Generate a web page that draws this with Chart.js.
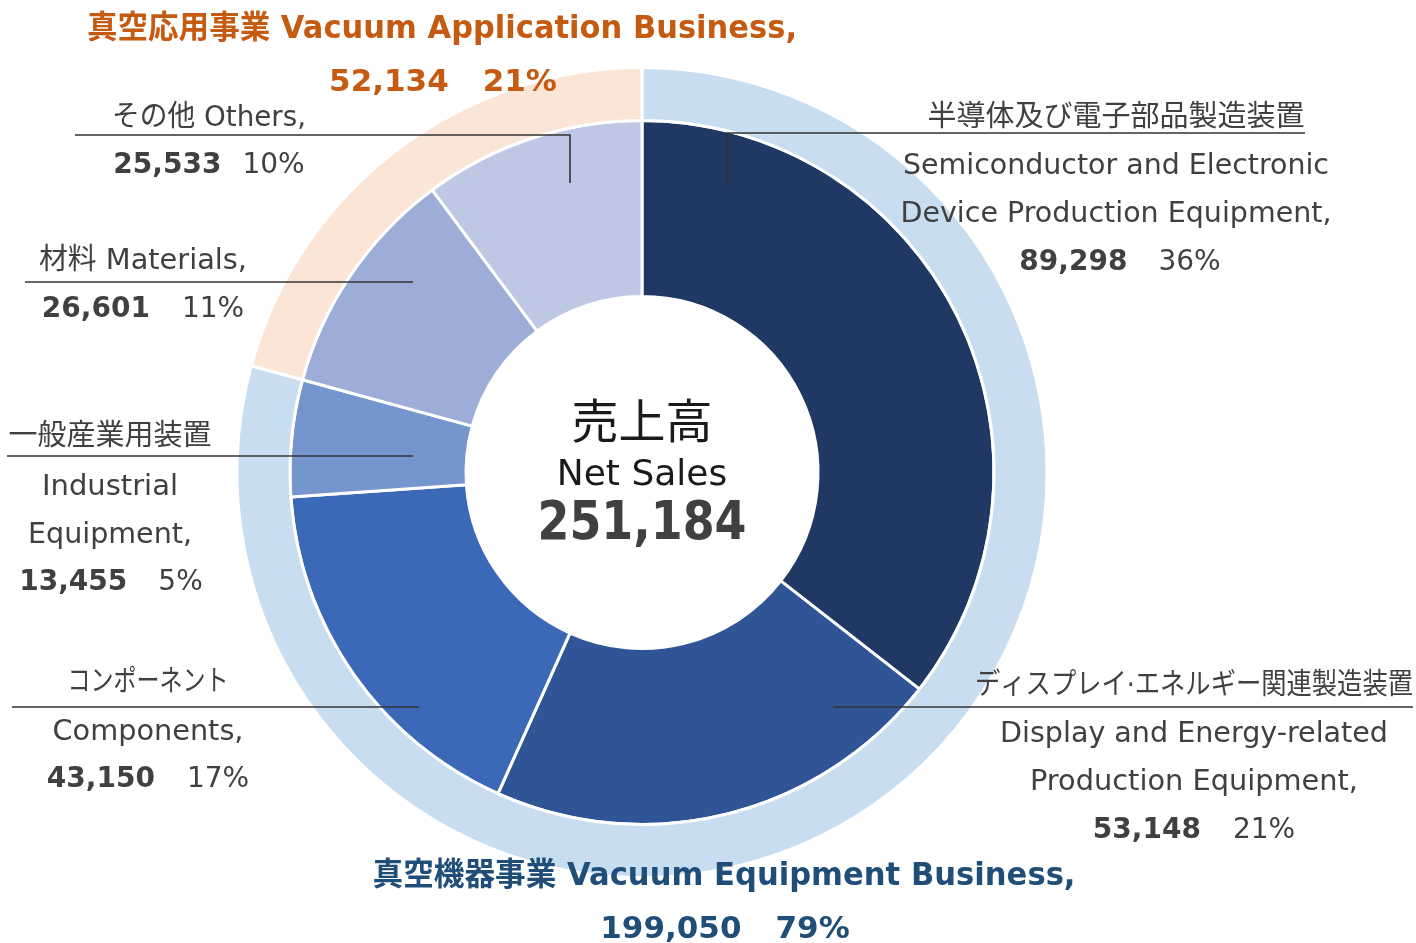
<!DOCTYPE html>
<html>
<head>
<meta charset="utf-8">
<script src="https://cdn.jsdelivr.net/npm/chart.js@4/dist/chart.umd.min.js"></script>
<style>
  html, body { margin: 0; padding: 0; background: #ffffff; }
  #wrap { width: 1416px; height: 943px; position: relative; }
</style>
</head>
<body>
<div id="wrap"><canvas id="c" width="1416" height="943"></canvas></div>
<script>
// ---- data ----
const segmentLabelsJa = ['半導体及び電子部品製造装置', 'ディスプレイ·エネルギー関連製造装置', 'コンポーネント', '一般産業用装置', '材料', 'その他'];
const segmentLabelsEn = ['Semiconductor and Electronic Device Production Equipment', 'Display and Energy-related Production Equipment', 'Components', 'Industrial Equipment', 'Materials', 'Others'];
const segmentValues = [89298, 53148, 43150, 13455, 26601, 25533];
const segmentPercents = [36, 21, 17, 5, 11, 10];
const segmentColors = ['#203864', '#2F5597', '#3C68B8', '#7595CE', '#9EADD7', '#BEC8E4'];

const businessLabelsJa = ['真空機器事業', '真空応用事業'];
const businessLabelsEn = ['Vacuum Equipment Business', 'Vacuum Application Business'];
const businessValues = [199050, 52134];
const businessPercents = [79, 21];
const businessColors = ['#C9DDF1', '#FBE5D6'];

const totalLabelJa = '売上高';
const totalLabelEn = 'Net Sales';
const totalValue = 251184;

const fmt = v => v.toLocaleString('en-US');
const FAM = '"DejaVu Sans", "Noto Sans CJK JP", sans-serif';
const TXT = '#404040';
const DY = 3;

function txt(ctx, s, cx, y, font, color, maxW) {
  ctx.font = font;
  ctx.fillStyle = color;
  ctx.textAlign = 'center';
  ctx.textBaseline = 'middle';
  const w = ctx.measureText(s).width;
  if (maxW && w > maxW) ctx.fillText(s, cx, y + DY, maxW); else ctx.fillText(s, cx, y + DY);
}
function numLine(ctx, boldS, regS, cx, y, gap, size, color, boldOnly) {
  const fb = 'bold ' + size + 'px ' + FAM;
  const fr = (boldOnly ? 'bold ' : '') + size + 'px ' + FAM;
  ctx.font = fb; const wb = ctx.measureText(boldS).width;
  ctx.font = fr; const wr = ctx.measureText(regS).width;
  const start = cx - (wb + gap + wr) / 2;
  ctx.textAlign = 'left'; ctx.textBaseline = 'middle'; ctx.fillStyle = color;
  ctx.font = fb; ctx.fillText(boldS, start, y + DY);
  ctx.font = fr; ctx.fillText(regS, start + wb + gap, y + DY);
}
function line(ctx, pts) {
  ctx.beginPath();
  ctx.moveTo(pts[0][0], pts[0][1]);
  for (let i = 1; i < pts.length; i++) ctx.lineTo(pts[i][0], pts[i][1]);
  ctx.strokeStyle = '#333333';
  ctx.lineWidth = 1.6;
  ctx.stroke();
}

const labelPlugin = {
  id: 'labels',
  afterDraw(chart) {
    const ctx = chart.ctx;
    ctx.save();
    const F = s => s + 'px ' + FAM;
    // leader lines
    line(ctx, [[75, 135], [570, 135], [570, 183]]);
    line(ctx, [[25, 282], [413, 282]]);
    line(ctx, [[7, 456], [413, 456]]);
    line(ctx, [[12, 707], [419, 707]]);
    line(ctx, [[1305, 133], [727, 133], [727, 185]]);
    line(ctx, [[833, 707], [1413, 707]]);

    // Others (5)
    txt(ctx, segmentLabelsJa[5] + ' ' + segmentLabelsEn[5] + ',', 209, 115, F(29), TXT, 194);
    numLine(ctx, fmt(segmentValues[5]), segmentPercents[5] + '%', 209, 163, 21, 28, TXT);
    // Materials (4)
    txt(ctx, segmentLabelsJa[4] + ' ' + segmentLabelsEn[4] + ',', 143, 258, F(29), TXT, 208);
    numLine(ctx, fmt(segmentValues[4]), segmentPercents[4] + '%', 143, 307, 32, 28, TXT);
    // Industrial (3)
    txt(ctx, segmentLabelsJa[3], 110, 434, F(29), TXT, 206);
    txt(ctx, 'Industrial', 110, 484, F(29), TXT, 136);
    txt(ctx, 'Equipment,', 110, 532, F(29), TXT, 164);
    numLine(ctx, fmt(segmentValues[3]), segmentPercents[3] + '%', 111, 580, 31, 28, TXT);
    // Components (2)
    txt(ctx, segmentLabelsJa[2], 148, 680, F(29), TXT, 161);
    txt(ctx, segmentLabelsEn[2] + ',', 148, 729, F(29), TXT, 191);
    numLine(ctx, fmt(segmentValues[2]), segmentPercents[2] + '%', 148, 777, 32, 28, TXT);
    // Semiconductor (0)
    txt(ctx, segmentLabelsJa[0], 1116, 115, F(29), TXT, 378);
    txt(ctx, 'Semiconductor and Electronic', 1116, 163, F(29), TXT, 426);
    txt(ctx, 'Device Production Equipment,', 1116, 211, F(29), TXT, 431);
    numLine(ctx, fmt(segmentValues[0]), segmentPercents[0] + '%', 1120, 260, 31, 28, TXT);
    // Display (1)
    txt(ctx, segmentLabelsJa[1], 1194, 683, F(29), TXT, 438);
    txt(ctx, 'Display and Energy-related', 1194, 731, F(29), TXT, 388);
    txt(ctx, 'Production Equipment,', 1194, 779, F(29), TXT, 328);
    numLine(ctx, fmt(segmentValues[1]), segmentPercents[1] + '%', 1194, 828, 32, 28, TXT);

    // business titles
    txt(ctx, businessLabelsJa[1] + ' ' + businessLabelsEn[1] + ',', 442, 27, 'bold 32px ' + FAM, '#C55A11', 710);
    numLine(ctx, fmt(businessValues[1]), businessPercents[1] + '%', 443, 80, 34, 31, '#C55A11', true);
    txt(ctx, businessLabelsJa[0] + ' ' + businessLabelsEn[0] + ',', 724, 874, 'bold 32px ' + FAM, '#1F4E79', 703);
    numLine(ctx, fmt(businessValues[0]), businessPercents[0] + '%', 725, 927, 34, 31, '#1F4E79', true);

    // center
    const cx = chart.getDatasetMeta(1).data[0].x;
    const cy = chart.getDatasetMeta(1).data[0].y;
    txt(ctx, totalLabelJa, cx, cy - 50, '47px ' + FAM, '#1a1a1a', 144);
    txt(ctx, totalLabelEn, cx, cy, '36px ' + FAM, '#1a1a1a', 172);
    txt(ctx, fmt(totalValue), cx, cy + 50, 'bold 53px ' + FAM, '#404040', 209);
    ctx.restore();
  }
};

new Chart(document.getElementById('c'), {
  type: 'doughnut',
  data: {
    labels: segmentLabelsEn,
    datasets: [
      {
        data: businessValues,
        backgroundColor: businessColors,
        borderColor: '#ffffff',
        borderWidth: 3,
        weight: 53,
        hoverOffset: 0
      },
      {
        data: segmentValues,
        backgroundColor: segmentColors,
        borderColor: '#ffffff',
        borderWidth: 3,
        weight: 176,
        hoverOffset: 0
      }
    ]
  },
  options: {
    responsive: false,
    animation: false,
    cutout: 176,
    layout: { padding: { top: 66, bottom: 64, left: 0, right: 132 } },
    plugins: { legend: { display: false }, tooltip: { enabled: false } },
    events: []
  },
  plugins: [labelPlugin]
});
</script>
</body>
</html>
